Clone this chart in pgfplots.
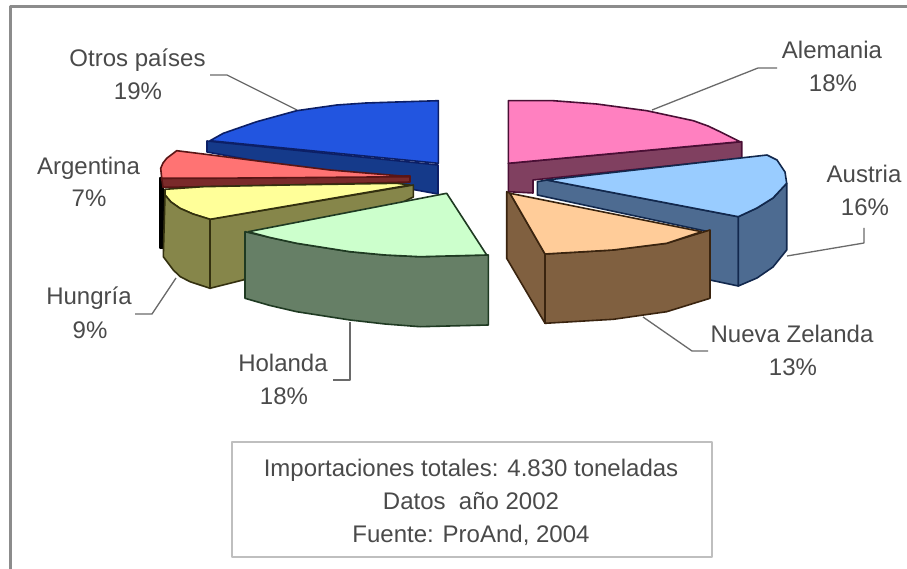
\documentclass[border=0pt]{standalone}
\usepackage{pgfplots}
\pgfplotsset{compat=1.18}
\usepackage{fontspec}
\setmainfont{Liberation Sans}
\definecolor{txt}{HTML}{4A4A4A}
\definecolor{lead}{HTML}{6A6A6A}
\definecolor{edge}{HTML}{8C8C8C}
\definecolor{HTMLblue}{HTML}{2255E0}
\definecolor{HTMLblueD}{HTML}{153A8A}
\definecolor{HTMLblueE}{HTML}{0C1F66}
\definecolor{HTMLred}{HTML}{FF7373}
\definecolor{HTMLredD}{HTML}{7A2A2A}
\definecolor{HTMLredE}{HTML}{5A1515}
\definecolor{HTMLyellow}{HTML}{FFFF99}
\definecolor{HTMLolive}{HTML}{86864A}
\definecolor{HTMLoliveE}{HTML}{33300F}
\definecolor{HTMLgreen}{HTML}{CCFFCC}
\definecolor{HTMLgreenD}{HTML}{667F66}
\definecolor{HTMLgreenE}{HTML}{1F3A22}
\definecolor{HTMLpink}{HTML}{FF80C0}
\definecolor{HTMLpinkD}{HTML}{804060}
\definecolor{HTMLpinkE}{HTML}{4A0F35}
\definecolor{HTMLsky}{HTML}{99CCFF}
\definecolor{HTMLsteel}{HTML}{4D6B91}
\definecolor{HTMLsteelE}{HTML}{12284D}
\definecolor{HTMLpeach}{HTML}{FFCC99}
\definecolor{HTMLbrown}{HTML}{806040}
\definecolor{HTMLbrownE}{HTML}{3A240F}
\newcommand{\lab}[3]{\node[text=txt, font=\fontsize{24}{28}\selectfont, anchor=base, inner sep=0pt] at (axis cs:#1,#2) {#3};}
\begin{document}
\begin{tikzpicture}
\begin{axis}[
  scale only axis, width=907pt, height=569pt,
  xmin=0, xmax=907, ymin=0, ymax=569, y dir=reverse,
  hide axis, clip=true, no markers,
  every axis plot/.append style={line join=round, line width=1.6pt},
]
% background and frame
\addplot[fill=white, draw=none] coordinates {(0,0)(907,0)(907,569)(0,569)} -- cycle;
\addplot[draw=edge, line width=3pt] coordinates {(10,569)(10,6.5)(907,6.5)};
% box
\addplot[fill=white, draw=black!25, line width=1.4pt] coordinates {(232,442)(712,442)(712,557)(232,557)} -- cycle;
% leaders
\addplot[draw=lead, line width=1.3pt] coordinates {(210,75)(227,75)(297,110)};
\addplot[draw=lead, line width=1.3pt] coordinates {(777,68)(758,68)(652,110)};
\addplot[draw=lead, line width=1.3pt] coordinates {(864,228)(864,243)(787,256)};
\addplot[draw=lead, line width=1.3pt] coordinates {(708,351)(692,351)(643,317)};
\addplot[draw=lead, line width=1.3pt] coordinates {(333,380)(350,380)(350,322)};
\addplot[draw=lead, line width=1.3pt] coordinates {(135,314)(152,314)(176,278)};
% Otros paises
\addplot[fill=HTMLblueD, draw=HTMLblueE] coordinates {(207,141)(438,165)(438,194)(207,152)} -- cycle;
\addplot[fill=HTMLblue, draw=HTMLblueE] coordinates {(438.3,100.7)(396.7,102)(366,103)(336.7,105)(296.7,110.7)(256.7,121.7)(223.3,133.3)(210,140.7)(438.3,163.3)} -- cycle;
% Argentina
\addplot[fill=black, draw=black] coordinates {(160,178)(163,178)(163,248)(160,248)} -- cycle;
\addplot[fill=HTMLredD, draw=HTMLredE] coordinates {(161.7,178.3)(410,176)(410,182)(286.7,185)(203.3,186.7)(163,187.3)} -- cycle;
\addplot[fill=HTMLred, draw=HTMLredE] coordinates {(161.7,178.3)(160.7,168.3)(163,163)(166.7,158.3)(176.7,150.7)(203.3,154)(263.3,161.7)(330,170)(410,176.7)(286.7,177.7)(203,178.3)} -- cycle;
% Hungria
\addplot[fill=HTMLolive, draw=HTMLoliveE] coordinates {(210,219.3)(413.3,185)(413.3,197)(243,280)(210,288.3)} -- cycle;
\addplot[fill=HTMLyellow, draw=HTMLoliveE] coordinates {(165,189.3)(203.3,186.7)(286.7,185)(396.7,183.3)(410,185)(210,219.3)(193,214)(180,208.3)(171,202)(165,195)} -- cycle;
\addplot[fill=HTMLolive, draw=HTMLoliveE] coordinates {(165,195)(171,202)(180,208.3)(193,214)(210,219.3)(210,288.3)(190,281.7)(180,276.5)(173.3,270)(163.3,256.7)} -- cycle;
% Holanda
\addplot[fill=HTMLgreenD, draw=HTMLgreenE] coordinates {(245,231.7)(270,237.5)(296.7,243.3)(350,251.7)(385,255)(420,256.7)(488.3,255)(488.3,325)(420,326.7)(385,324)(350,320)(296.7,311.7)(270,305.5)(245,298.3)} -- cycle;
\addplot[fill=HTMLgreen, draw=HTMLgreenE] coordinates {(248.3,231.7)(446.7,193.3)(486.7,255)(420,256.7)(385,255)(350,251.7)(296.7,243.3)(270,237.5)} -- cycle;
% Alemania
\addplot[fill=HTMLpinkD, draw=HTMLpinkE] coordinates {(508.3,163.3)(741.7,141.7)(741.7,158.3)(533,180)(533,193)(508.3,191.7)} -- cycle;
\addplot[fill=HTMLpink, draw=HTMLpinkE] coordinates {(508.3,100.7)(553.3,100.7)(596.7,104)(646.7,110.7)(693.3,120.7)(708,126)(720,131.7)(740,141.7)(508.3,163.3)} -- cycle;
% Austria
\addplot[fill=HTMLsteel, draw=HTMLsteelE] coordinates {(537.3,181.7)(547,180)(738.3,216.7)(738.3,286)(710,280)(710,232)(537.3,195)} -- cycle;
\addplot[fill=HTMLsteel, draw=HTMLsteelE] coordinates {(738.3,216.7)(757,208)(773,198)(786.7,183.3)(786.7,250)(773,267)(757,278)(738.3,286)} -- cycle;
\addplot[fill=HTMLsky, draw=HTMLsteelE] coordinates {(546.7,180)(767,155)(777,160)(785,172)(786.7,183.3)(773,198)(757,208)(738.3,216.7)} -- cycle;
% Nueva Zelanda
\addplot[fill=HTMLbrown, draw=HTMLbrownE] coordinates {(506.7,191.7)(510,193.3)(545,254)(545,323.3)(506.7,258.3)} -- cycle;
\addplot[fill=HTMLbrown, draw=HTMLbrownE] coordinates {(545,254)(613.3,250)(666.7,243.3)(710,230)(710,298.3)(666.7,311.7)(613.3,319.3)(545,323.3)} -- cycle;
\addplot[fill=HTMLpeach, draw=HTMLbrownE] coordinates {(510,193.3)(701.7,231.7)(666.7,243.3)(613.3,250)(545,254)} -- cycle;
% labels
\lab{137.5}{67}{Otros países}
\lab{138}{100}{19\%}
\lab{832}{59}{Alemania}
\lab{833}{92}{18\%}
\lab{864}{183}{Austria}
\lab{865}{216}{16\%}
\lab{792}{342}{Nueva Zelanda}
\lab{793}{375}{13\%}
\lab{283}{371}{Holanda}
\lab{284}{404}{18\%}
\lab{89}{305}{Hungría}
\lab{90}{338}{9\%}
\lab{88.5}{175}{Argentina}
\lab{89}{207}{7\%}
\lab{471}{476}{Importaciones totales: 4.830 toneladas}
\lab{471}{509}{Datos\ \ año 2002}
\lab{471}{542}{Fuente: ProAnd, 2004}
\end{axis}
\end{tikzpicture}
\end{document}
